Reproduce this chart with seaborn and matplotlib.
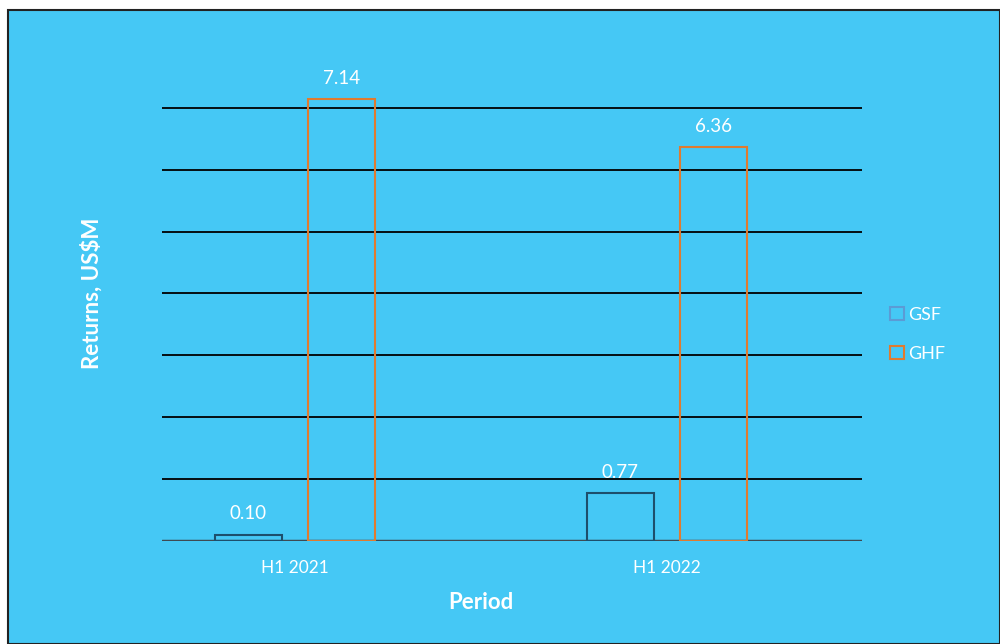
import matplotlib
matplotlib.use("Agg")
import matplotlib.pyplot as plt
from matplotlib.patches import Rectangle, Patch
import seaborn as sns
import pandas as pd

periods = ["H1 2021", "H1 2022"]
funds = ["GSF", "GHF"]
gsf_returns = [0.10, 0.77]
ghf_returns = [7.14, 6.36]

bg = "#45C8F5"
edge_colors = {"GSF": "#1D4F6C", "GHF": "#E07B2F"}
legend_colors = {"GSF": "#5B9BD5", "GHF": "#E07B2F"}

df = pd.DataFrame({
    "Period": periods * 2,
    "Fund": ["GSF"] * len(periods) + ["GHF"] * len(periods),
    "Returns": gsf_returns + ghf_returns,
})

sns.set_theme(style="white")
plt.rcParams["font.family"] = ["Lato", "DejaVu Sans"]

fig = plt.figure(figsize=(10, 6.44), dpi=100)
fig.patch.set_facecolor("white")
# framed light-blue panel
fig.patches.append(Rectangle((0.008, 0.0), 0.992, 0.984, transform=fig.transFigure,
                             facecolor=bg, edgecolor="#222222", linewidth=1.5, zorder=-1))

ax = fig.add_axes([0.162, 0.16, 0.70, 0.7686])
ax.set_facecolor("none")

sns.barplot(data=df, x="Period", y="Returns", hue="Fund", hue_order=funds,
            order=periods, width=0.503, gap=0.284, fill=False, ax=ax,
            palette=edge_colors, linewidth=1.5, legend=False, errorbar=None, zorder=3)

ax.set_xlim(-0.358, 1.524)
ax.set_ylim(0, 8)

for y in range(1, 8):
    ax.axhline(y, color="black", linewidth=1.3, zorder=1)
ax.axhline(0, color="#3F4A52", linewidth=2.5, zorder=2)

for container, fund in zip(ax.containers, funds):
    for bar in container:
        h = bar.get_height()
        ax.annotate(f"{h:.2f}", (bar.get_x() + bar.get_width() / 2, h),
                    xytext=(0, 9), textcoords="offset points", ha="center", va="bottom",
                    color="white", fontsize=13.5)

for s in ax.spines.values():
    s.set_visible(False)
ax.set_yticks([])
ax.tick_params(axis="x", length=0, pad=14, labelsize=12.5, labelcolor="white")
ax.set_xlabel("Period", color="white", fontsize=16, fontweight="bold")
ax.xaxis.set_label_coords(0.456, -0.103)
ax.set_ylabel("Returns, US$M", color="white", fontsize=16, fontweight="bold")
ax.yaxis.set_label_coords(-0.085, 0.5)

handles = [Patch(facecolor="none", edgecolor=legend_colors[f], linewidth=1.5, label=f) for f in funds]
fig.legend(handles=handles, loc="center left", bbox_to_anchor=(0.874, 0.481), frameon=False,
           labelcolor="white", fontsize=13, handlelength=0.75, handleheight=0.75,
           handletextpad=0.25, labelspacing=1.25)

fig.savefig("out.png", dpi=100, facecolor=fig.get_facecolor())
